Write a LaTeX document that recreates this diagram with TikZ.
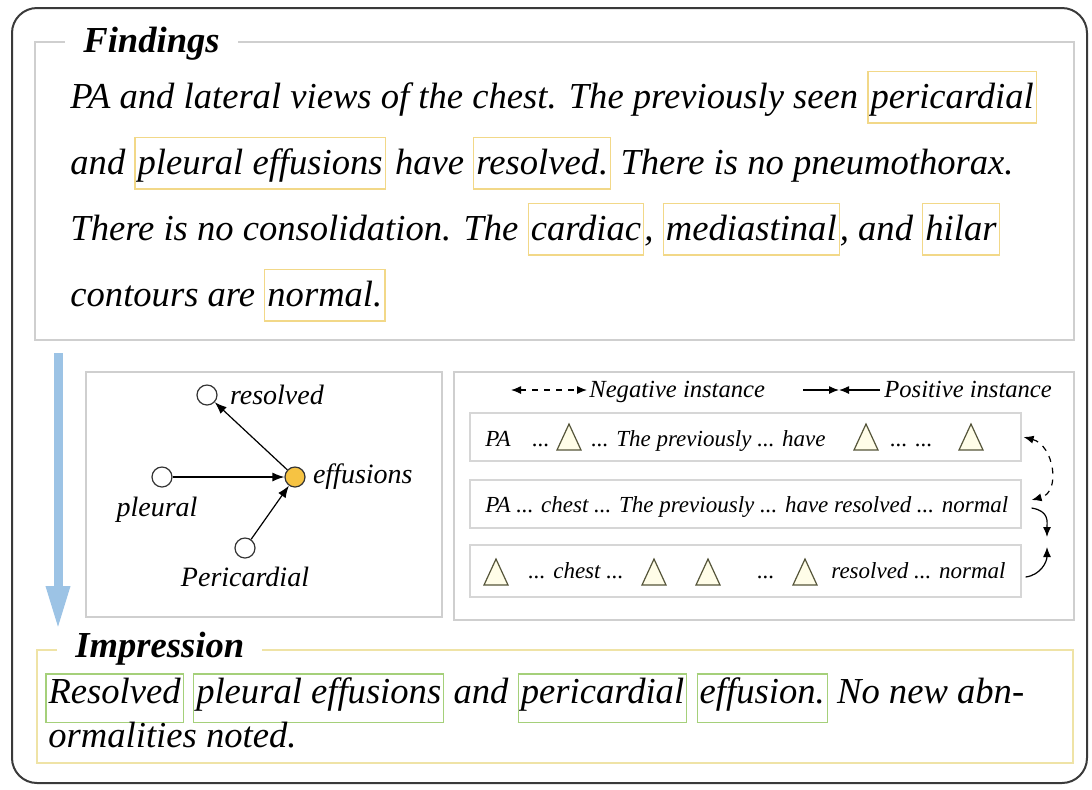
\documentclass[tikz,border=0pt]{standalone}
\usepackage{fontspec}
\setmainfont{Liberation Serif}
\usetikzlibrary{positioning, arrows.meta}

\definecolor{framegray}{HTML}{3A3A3A}
\definecolor{boxgray}{HTML}{CFCFCF}
\definecolor{rowgray}{HTML}{D6D6D6}
\definecolor{impyellow}{HTML}{EFE3A6}
\definecolor{hlyellow}{HTML}{F2D888}
\definecolor{hlgreen}{HTML}{A5D07A}
\definecolor{effyellow}{HTML}{F6C343}
\definecolor{flowblue}{HTML}{9CC3E5}
\definecolor{triedge}{HTML}{55553A}
\definecolor{trifill}{HTML}{FFFDE8}

\newcommand{\findfont}{\fontsize{18.3}{22}\selectfont\itshape}
\newcommand{\glabfont}{\fontsize{14}{17}\selectfont\itshape}
\newcommand{\legfont}{\fontsize{12.3}{15}\selectfont\itshape}
\newcommand{\rowfont}{\fontsize{11.5}{14}\selectfont\itshape}
\newcommand{\ybox}[1]{{\setlength{\fboxsep}{1pt}\setlength{\fboxrule}{0.6pt}\color{hlyellow}\fbox{\color{black}\rule[-0.34em]{0pt}{1.26em}#1}}}
\newcommand{\gbox}[1]{{\setlength{\fboxsep}{1pt}\setlength{\fboxrule}{0.6pt}\color{hlgreen}\fbox{\color{black}\rule[-0.46em]{0pt}{1.18em}#1}}}

\begin{document}
\begin{tikzpicture}[
                    x=0.5pt, y=-0.5pt,
                    frame/.style={draw=framegray, line width=1pt, rounded corners=12.5pt},
                    graybox/.style={draw=boxgray, line width=0.7pt},
                    impbox/.style={draw=impyellow, line width=0.8pt},
                    title/.style={anchor=base west, fill=white, inner xsep=9pt, inner ysep=1pt, font=\fontsize{18.3}{22}\selectfont\bfseries\itshape},
                    findtxt/.style={anchor=base west, inner sep=0pt, font=\findfont},
                    gnode/.style={circle, draw=black!80, line width=0.6pt, fill=white, minimum size=10pt, inner sep=0pt},
                    glabel/.style={inner sep=0pt, font=\glabfont},
                    garrow/.style={-{Latex[length=6pt,width=4.5pt]}, line width=0.6pt},
                    legtxt/.style={anchor=base west, inner sep=0pt, font=\legfont},
                    rowtxt/.style={anchor=base west, inner sep=0pt, font=\rowfont},
                    rowbox/.style={draw=rowgray, line width=0.6pt, minimum width=275.5pt, minimum height=24pt, inner sep=0pt},
                    negarrow/.style={{Latex[length=5pt,width=4pt]}-{Latex[length=5pt,width=4pt]}, dashed, line width=0.6pt},
                    posarrow/.style={-{Latex[length=5pt,width=4pt]}, line width=0.6pt},
                    tri/.style={draw=triedge, fill=trifill, line width=0.6pt, line join=miter},
                    flow/.style={draw=flowblue, line width=4.5pt, -{Triangle[length=22pt,width=11pt]}}
                ]
  \useasboundingbox (0,0) rectangle (1092,789);
  \draw[frame] (12,8) rectangle (1087,783);

  % findings
  \draw[graybox] (35,42) rectangle (1074,340);
  \node[title] (findtitle) at (65,52) {Findings};
  \node[findtxt] (fl1) at (70,108) {PA and lateral views of the chest. The previously seen \ybox{pericardial}};
  \node[findtxt] (fl2) at (70,174) {and \ybox{pleural effusions} have \ybox{resolved.} There is no pneumothorax.};
  \node[findtxt] (fl3) at (70,240) {There is no consolidation. The \ybox{cardiac}, \ybox{mediastinal}, and \ybox{hilar}};
  \node[findtxt] (fl4) at (70,306) {contours are \ybox{normal.}};

  \coordinate (flowtop) at (58,353);
  \coordinate (flowtip) at (58,630);
  \draw[flow] (flowtop) -- (flowtip);

  % graph
  \draw[graybox] (86,372) rectangle (442,617);
  \node[gnode] (nres) at (207,395) {};
  \node[gnode] (nple) at (162,477) {};
  \node[gnode, fill=effyellow] (neff) at (295,477) {};
  \node[gnode] (nper) at (245,548) {};
  \node[glabel, right=6pt of nres] (lres) {resolved};
  \node[glabel, below=4.5pt of nple, xshift=-2.5pt] (lple) {pleural};
  \node[glabel, right=3.5pt of neff] (leff) {effusions};
  \node[glabel, below=4pt of nper] (lper) {Pericardial};
  \draw[garrow] (neff) -- (nres);
  \draw[garrow] (nple) -- (neff);
  \draw[garrow] (nper) -- (neff);

  % instances
  \draw[graybox] (454,372) rectangle (1074,620);
  \coordinate (negL) at (511,390);
  \coordinate (negR) at (587,390);
  \draw[negarrow] (negL) -- (negR);
  \node[legtxt] (negtxt) at (589,397) {Negative instance};
  \coordinate (posL) at (803,390);
  \coordinate (posM) at (839,390);
  \coordinate (posR) at (880,390);
  \draw[posarrow] (posL) -- (posM);
  \draw[posarrow] (posR) -- (posM);
  \node[legtxt] (postxt) at (884,397) {Positive instance};

  \node[rowbox] (row1) at (745.5,437) {};
  \node[rowbox] (row2) at (745.5,504) {};
  \node[rowbox, minimum height=26pt] (row3) at (745.5,571) {};

  \node[rowtxt] (r1a) at (485,446) {PA};
  \node[rowtxt] (r1b) at (532,446) {...};
  \node[rowtxt] (r1c) at (591,446) {... The previously ... have};
  \node[rowtxt] (r1d) at (890,446) {... ...};
  \node[rowtxt] (r2a) at (485,512) {PA ... chest ... The previously ... have resolved ... normal};
  \node[rowtxt] (r3a) at (528,578) {... chest ...};
  \node[rowtxt] (r3b) at (757,578) {...};
  \node[rowtxt] (r3c) at (831,578) {resolved ... normal};
  \foreach \tx/\ty in {569/450, 866/450, 971/450, 496/585, 654/585, 708/585, 805/585}
    \draw[tri] (\tx-12,\ty) -- (\tx+12,\ty) -- (\tx,\ty-26) -- cycle;

  \coordinate (meetA) at (1047,537);
  \coordinate (meetB) at (1047,547);
  \draw[negarrow] ([xshift=1pt]row1.east) .. controls +(30,8) and +(30,-8) .. ([xshift=5pt,yshift=2pt]row2.east);
  \draw[posarrow] ([xshift=5pt,yshift=-2pt]row2.east) .. controls +(18,3) and +(0,-15) .. (meetA);
  \draw[posarrow] ([xshift=2pt,yshift=-3pt]row3.east) .. controls +(15,-2) and +(0,15) .. (meetB);

  % impression
  \draw[impbox] (37,650) rectangle (1073,763);
  \node[title] (imptitle) at (57,657) {Impression};
  \node[findtxt] (il1) at (45,703) {\gbox{Resolved} \gbox{pleural effusions} and \gbox{pericardial} \gbox{effusion.} No new abn-};
  \node[findtxt] (il2) at (48,747) {ormalities noted.};
\end{tikzpicture}
\end{document}
